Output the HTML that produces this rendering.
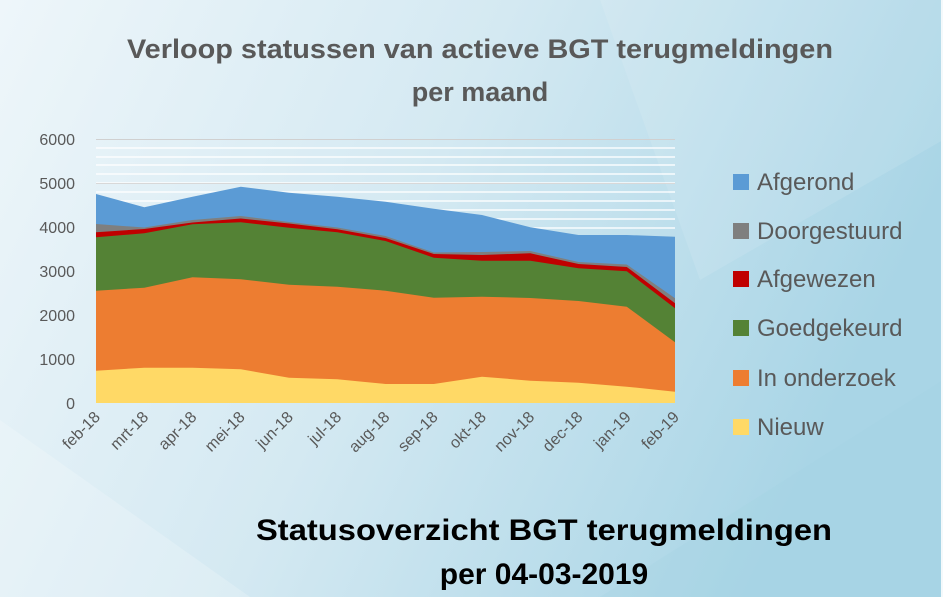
<!DOCTYPE html>
<html><head><meta charset="utf-8"><style>
html,body{margin:0;padding:0;}
body{width:943px;height:597px;overflow:hidden;font-family:"Liberation Sans",sans-serif;}
</style></head><body>
<svg width="943" height="597" xmlns="http://www.w3.org/2000/svg">
<defs>
<linearGradient id="bg" x1="0" y1="0" x2="1" y2="0.3">
<stop offset="0" stop-color="#eef6fa"/>
<stop offset="0.5" stop-color="#d4e9f2"/>
<stop offset="1" stop-color="#a9d5e6"/>
</linearGradient>
</defs>
<rect width="943" height="597" fill="url(#bg)"/>
<polygon points="600,0 943,0 943,140 700,280" fill="#ffffff" opacity="0.1"/>
<polygon points="0,420 250,597 0,597" fill="#ffffff" opacity="0.2"/>
<polygon points="600,597 943,380 943,597" fill="#9fd0e3" opacity="0.2"/>
<rect x="941" y="0" width="2" height="597" fill="#f4f9fb"/>
<g stroke="#ffffff" stroke-width="1.5" opacity="0.9">
<line x1="96" y1="148" x2="675" y2="148"/><line x1="96" y1="157" x2="675" y2="157"/>
<line x1="96" y1="165" x2="675" y2="165"/><line x1="96" y1="174" x2="675" y2="174"/>
<line x1="96" y1="183" x2="675" y2="183"/><line x1="96" y1="192" x2="675" y2="192"/>
<line x1="96" y1="201" x2="675" y2="201"/><line x1="96" y1="210" x2="675" y2="210"/>
<line x1="96" y1="219" x2="675" y2="219"/><line x1="96" y1="228" x2="675" y2="228"/>
</g>
<line x1="96" y1="139.5" x2="675" y2="139.5" stroke="#d0d0d0"/>
<line x1="96" y1="183.5" x2="675" y2="183.5" stroke="#d8d8d8"/>
<polygon fill="#5b9bd5" points="96,403 96,194 144.3,207.3 192.5,196.7 240.8,186.7 289,192.7 337.3,196.7 385.5,201.7 433.8,208.7 482,215 530.3,227.3 578.5,235 626.8,235 675,236.7 675,403"/>
<polygon fill="#7f7f7f" points="96,403 96,224 144.3,227.5 192.5,220 240.8,216 289,222 337.3,227.5 385.5,236 433.8,252.5 482,252 530.3,251 578.5,262 626.8,264.5 675,298.3 675,403"/>
<polygon fill="#c00000" points="96,403 96,232.3 144.3,229 192.5,222.5 240.8,218.5 289,223.5 337.3,229.3 385.5,238 433.8,254 482,255 530.3,253.3 578.5,264 626.8,267 675,303.3 675,403"/>
<polygon fill="#548235" points="96,403 96,237.3 144.3,233.3 192.5,224.3 240.8,222.3 289,227.7 337.3,232.3 385.5,241 433.8,257.7 482,260.7 530.3,260.7 578.5,268.3 626.8,271.3 675,308.3 675,403"/>
<polygon fill="#ed7d31" points="96,403 96,290.7 144.3,287.7 192.5,277.3 240.8,279.3 289,284.7 337.3,286.7 385.5,290.7 433.8,297.7 482,296.7 530.3,298 578.5,301 626.8,306.7 675,342.3 675,403"/>
<polygon fill="#ffd966" points="96,403 96,370.7 144.3,367.7 192.5,367.7 240.8,369.3 289,377.7 337.3,379.3 385.5,384 433.8,384 482,376.7 530.3,380.7 578.5,382.7 626.8,386.7 675,391.7 675,403"/>
<g font-size="16" fill="#595959" text-anchor="end">
<text x="75" y="409">0</text><text x="75" y="365">1000</text><text x="75" y="321">2000</text>
<text x="75" y="277">3000</text><text x="75" y="233">4000</text><text x="75" y="189">5000</text><text x="75" y="145">6000</text>
</g>
<g font-size="16" fill="#595959" text-anchor="end">
<text transform="translate(101,418) rotate(-45)">feb-18</text>
<text transform="translate(149.3,418) rotate(-45)">mrt-18</text>
<text transform="translate(197.5,418) rotate(-45)">apr-18</text>
<text transform="translate(245.8,418) rotate(-45)">mei-18</text>
<text transform="translate(294,418) rotate(-45)">jun-18</text>
<text transform="translate(342.3,418) rotate(-45)">jul-18</text>
<text transform="translate(390.5,418) rotate(-45)">aug-18</text>
<text transform="translate(438.8,418) rotate(-45)">sep-18</text>
<text transform="translate(487,418) rotate(-45)">okt-18</text>
<text transform="translate(535.3,418) rotate(-45)">nov-18</text>
<text transform="translate(583.5,418) rotate(-45)">dec-18</text>
<text transform="translate(631.8,418) rotate(-45)">jan-19</text>
<text transform="translate(680,418) rotate(-45)">feb-19</text>
</g>
<g font-size="27" font-weight="bold" fill="#595959" text-anchor="middle">
<text x="480" y="58" textLength="706" lengthAdjust="spacingAndGlyphs">Verloop statussen van actieve BGT terugmeldingen</text>
<text x="480" y="101">per maand</text>
</g>
<g font-size="24" fill="#595959">
<rect x="733" y="174" width="16" height="16" fill="#5b9bd5"/><text x="757" y="190">Afgerond</text>
<rect x="733" y="223" width="16" height="16" fill="#7f7f7f"/><text x="757" y="239">Doorgestuurd</text>
<rect x="733" y="271" width="16" height="16" fill="#c00000"/><text x="757" y="287">Afgewezen</text>
<rect x="733" y="320" width="16" height="16" fill="#548235"/><text x="757" y="336">Goedgekeurd</text>
<rect x="733" y="370" width="16" height="16" fill="#ed7d31"/><text x="757" y="386">In onderzoek</text>
<rect x="733" y="419" width="16" height="16" fill="#ffd966"/><text x="757" y="435">Nieuw</text>
</g>
<g font-size="30" font-weight="bold" fill="#000" text-anchor="middle">
<text x="544" y="540" textLength="576" lengthAdjust="spacingAndGlyphs">Statusoverzicht BGT terugmeldingen</text>
<text x="544" y="584">per 04-03-2019</text>
</g>
</svg>
</body></html>
